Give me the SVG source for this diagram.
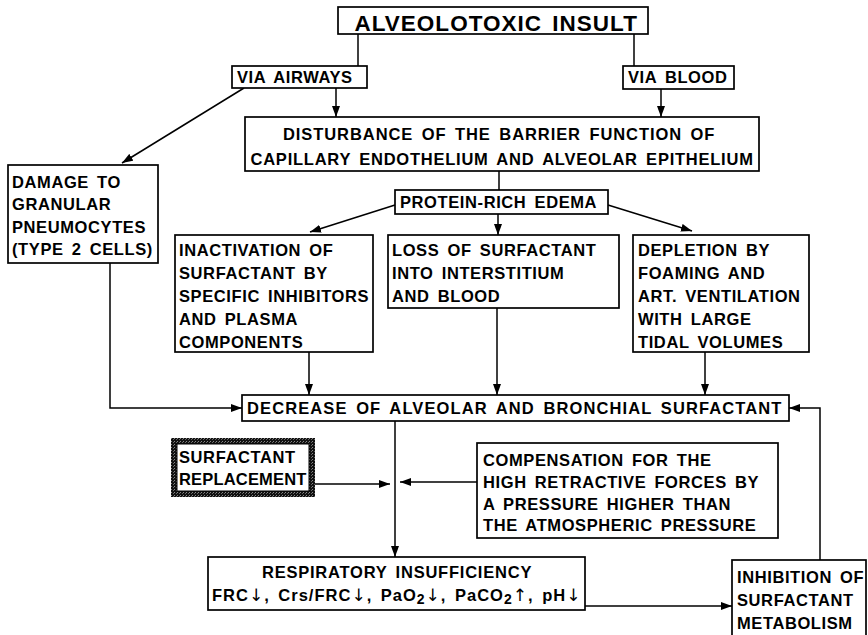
<svg xmlns="http://www.w3.org/2000/svg" width="868" height="635" viewBox="0 0 868 635">
<defs>
<style>
.box{fill:#fff;stroke:#000;stroke-width:1.7}
.t{font-family:"Liberation Sans",Arial,Helvetica,sans-serif;font-weight:bold;font-size:16.5px;letter-spacing:0.6px;word-spacing:3px;fill:#000}
.c{text-anchor:middle}
.ar{font-family:"DejaVu Sans",sans-serif;font-weight:normal;font-size:17px}
.ln{stroke:#000;stroke-width:1.5;fill:none}
.arr{marker-end:url(#ah)}
</style>
<marker id="ah" markerWidth="11" markerHeight="8" refX="11" refY="4" orient="auto" markerUnits="userSpaceOnUse">
<path d="M0,0 L11,4 L0,8 z" fill="#000"/>
</marker>
<pattern id="hatch" width="3" height="3" patternUnits="userSpaceOnUse">
<rect width="3" height="3" fill="#111"/>
<rect x="0" y="0" width="1" height="1" fill="#888"/>
<rect x="2" y="1" width="1" height="1" fill="#666"/>
</pattern>
</defs>
<rect width="868" height="635" fill="#fff"/>

<g id="connectors">
<path class="ln" d="M358,34 V66"/>
<path class="ln" d="M634,34 V66"/>
<path class="ln arr" d="M336,87 V117"/>
<path class="ln arr" d="M661,89 V117"/>
<path class="ln arr" d="M244,88 L122,163"/>
<path class="ln" d="M499,171 V190"/>
<path class="ln arr" d="M395,205 L310,232"/>
<path class="ln arr" d="M498,214 V235"/>
<path class="ln arr" d="M608,205 L692,231"/>
<path class="ln arr" d="M309,352 V395"/>
<path class="ln arr" d="M497,308 V395"/>
<path class="ln arr" d="M705,352 V395"/>
<path class="ln arr" d="M110,263 V408 H242"/>
<path class="ln arr" d="M820,560 V408 H789"/>
<path class="ln arr" d="M395,421 V557"/>
<path class="ln arr" d="M315,484 H390"/>
<path class="ln arr" d="M477,482 H400"/>
<path class="ln arr" d="M380,606 H732"/>
</g>

<g id="insult">
<rect class="box" x="338" y="7" width="310" height="27"/>
<text class="t c" x="496" y="31" style="font-size:22.5px" textLength="283" lengthAdjust="spacing">ALVEOLOTOXIC INSULT</text>
</g>

<g id="via-airways">
<rect class="box" x="232" y="66" width="135" height="22"/>
<text class="t" x="237" y="83">VIA AIRWAYS</text>
</g>

<g id="via-blood">
<rect class="box" x="623" y="66" width="111" height="23"/>
<text class="t" x="628" y="83">VIA BLOOD</text>
</g>

<g id="disturbance">
<rect class="box" x="245" y="117" width="514" height="54"/>
<text class="t c" x="499" y="140" textLength="432" lengthAdjust="spacing">DISTURBANCE OF THE BARRIER FUNCTION OF</text>
<text class="t c" x="502" y="165" textLength="503" lengthAdjust="spacing">CAPILLARY ENDOTHELIUM AND ALVEOLAR EPITHELIUM</text>
</g>

<g id="damage">
<rect class="box" x="8" y="165" width="150" height="98"/>
<text class="t" x="12" y="188">DAMAGE TO</text>
<text class="t" x="12" y="210">GRANULAR</text>
<text class="t" x="12" y="233">PNEUMOCYTES</text>
<text class="t" x="12" y="255">(TYPE 2 CELLS)</text>
</g>

<g id="edema">
<rect class="box" x="395" y="190" width="213" height="24"/>
<text class="t" x="400" y="208">PROTEIN-RICH EDEMA</text>
</g>

<g id="inactivation">
<rect class="box" x="175" y="235" width="198" height="117"/>
<text class="t" x="179" y="256">INACTIVATION OF</text>
<text class="t" x="179" y="279">SURFACTANT BY</text>
<text class="t" x="179" y="302">SPECIFIC INHIBITORS</text>
<text class="t" x="179" y="325">AND PLASMA</text>
<text class="t" x="179" y="348">COMPONENTS</text>
</g>

<g id="loss">
<rect class="box" x="388" y="235" width="231" height="73"/>
<text class="t" x="392" y="256">LOSS OF SURFACTANT</text>
<text class="t" x="392" y="279">INTO INTERSTITIUM</text>
<text class="t" x="392" y="302">AND BLOOD</text>
</g>

<g id="depletion">
<rect class="box" x="633" y="235" width="176" height="117"/>
<text class="t" x="638" y="256">DEPLETION BY</text>
<text class="t" x="638" y="279">FOAMING AND</text>
<text class="t" x="638" y="302">ART. VENTILATION</text>
<text class="t" x="638" y="325">WITH LARGE</text>
<text class="t" x="638" y="348">TIDAL VOLUMES</text>
</g>

<g id="decrease">
<rect class="box" x="242" y="395" width="547" height="26"/>
<text class="t" x="247" y="414" textLength="535" lengthAdjust="spacing">DECREASE OF ALVEOLAR AND BRONCHIAL SURFACTANT</text>
</g>

<g id="replacement">
<rect x="171" y="438" width="144" height="59" fill="url(#hatch)"/>
<rect x="177" y="444" width="132" height="47" fill="#fff" stroke="#000" stroke-width="1"/>
<text class="t" x="179" y="463">SURFACTANT</text>
<text class="t" x="179" y="485" textLength="128" lengthAdjust="spacing">REPLACEMENT</text>
</g>

<g id="compensation">
<rect class="box" x="477" y="443" width="301" height="95"/>
<text class="t" x="483" y="466">COMPENSATION FOR THE</text>
<text class="t" x="483" y="488">HIGH RETRACTIVE FORCES BY</text>
<text class="t" x="483" y="510">A PRESSURE HIGHER THAN</text>
<text class="t" x="483" y="531">THE ATMOSPHERIC PRESSURE</text>
</g>

<g id="respiratory">
<rect class="box" x="208" y="557" width="377" height="53" fill="none"/>
<text class="t c" x="397" y="578" textLength="270" lengthAdjust="spacing">RESPIRATORY INSUFFICIENCY</text>
<text class="t" x="212" y="601" textLength="369" lengthAdjust="spacing">FRC<tspan class="ar">↓</tspan>, Crs/FRC<tspan class="ar">↓</tspan>, PaO<tspan dy="3" font-size="14">2</tspan><tspan class="ar" dy="-3">↓</tspan>, PaCO<tspan dy="3" font-size="14">2</tspan><tspan class="ar" dy="-3">↑</tspan>, pH<tspan class="ar">↓</tspan></text>
</g>

<g id="inhibition">
<rect class="box" x="732" y="560" width="134" height="90"/>
<text class="t" x="737" y="583">INHIBITION OF</text>
<text class="t" x="737" y="606">SURFACTANT</text>
<text class="t" x="737" y="629">METABOLISM</text>
</g>
</svg>
